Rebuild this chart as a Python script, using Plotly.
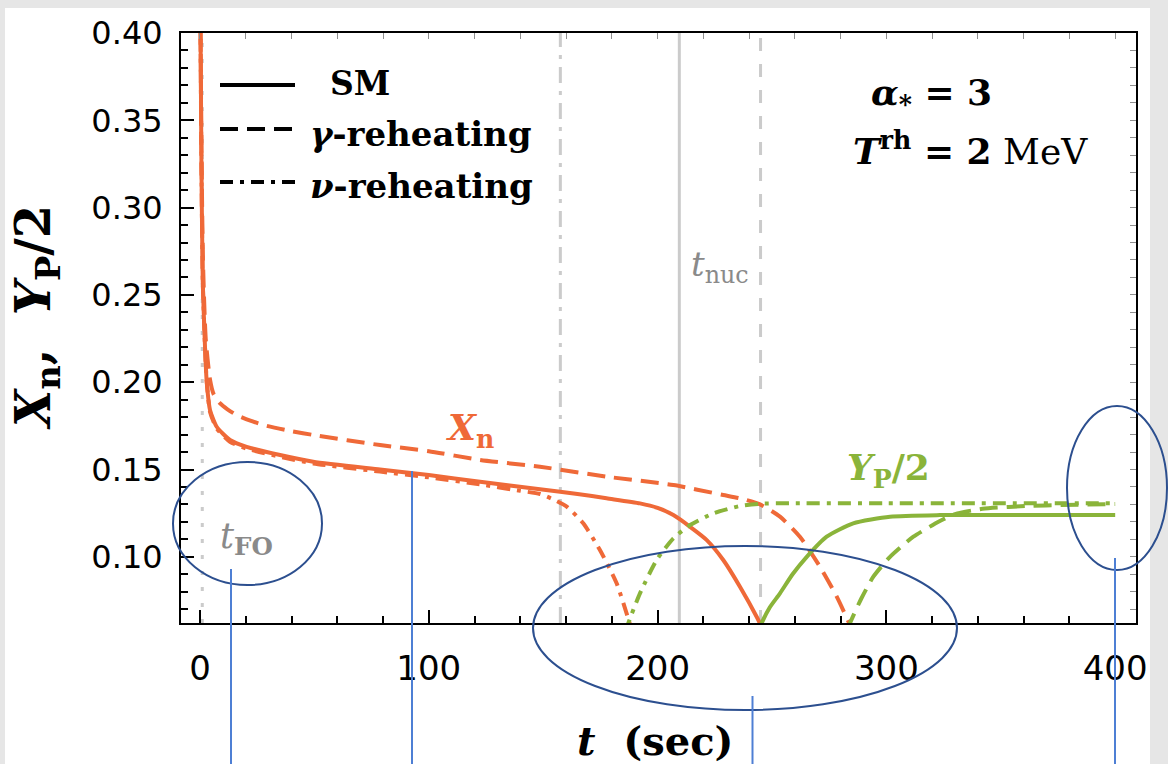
import plotly.graph_objects as go

# ---------------- data ----------------
# neutron fraction X_n
t_xn_sm = [0, 0.6, 1.2, 2.2, 2.9, 4.4, 7.3, 13.1, 20.4, 35, 49.5, 78.7, 100, 122.4,
           148.6, 165, 177.7, 192.3, 200, 206.9, 214.2, 221.5, 228.7, 236, 243.3, 246.5]
xn_sm = [0.45, 0.33, 0.258, 0.220, 0.201, 0.184, 0.1745, 0.1669, 0.163, 0.1583, 0.1545,
         0.1500, 0.1468, 0.1430, 0.1387, 0.1360, 0.1335, 0.1306, 0.1280, 0.1239, 0.1172,
         0.1096, 0.0982, 0.0829, 0.0657, 0.057]

t_xn_gam = [0, 0.6, 1.3, 2.5, 4.4, 6.0, 8.7, 12, 16, 22, 27.7, 40, 49.5, 78.7, 100, 122.4,
            148.6, 177.7, 206.9, 228.7, 236, 244.8, 253.5, 262.2, 271, 278.3, 285.5]
xn_gam = [0.45, 0.34, 0.27, 0.225, 0.2013, 0.193, 0.188, 0.1845, 0.1812, 0.178, 0.1755,
          0.172, 0.1698, 0.164, 0.1605, 0.1555, 0.1516, 0.1459, 0.1411, 0.1354, 0.1335,
          0.1300, 0.1230, 0.1115, 0.0943, 0.0772, 0.057]

t_xn_nu = [0, 0.6, 1.2, 2.2, 2.9, 4.4, 7.3, 13.1, 20.4, 35, 49.5, 78.7, 100, 122.4, 140,
           148.6, 155, 160.3, 167.5, 174.8, 182.1, 187.6, 189]
xn_nu = [0.45, 0.33, 0.258, 0.220, 0.201, 0.183, 0.1735, 0.1659, 0.162, 0.1573, 0.1535,
         0.1488, 0.1455, 0.1415, 0.1378, 0.1360, 0.1325, 0.1287, 0.1192, 0.1039, 0.0848,
         0.0628, 0.057]

# helium mass fraction / 2
t_yp_sm = [243.5, 245.5, 249, 253.5, 259, 265.2, 273.9, 285.5, 301.6, 323.4, 350, 400]
yp_sm = [0.055, 0.062, 0.071, 0.0791, 0.090, 0.100, 0.1115, 0.1192, 0.1230, 0.1239,
         0.1240, 0.1240]

t_yp_gam = [283, 284.1, 289, 294.3, 301.6, 311.8, 323.4, 330, 342, 364, 400]
yp_gam = [0.058, 0.062, 0.076, 0.0886, 0.100, 0.1115, 0.1205, 0.1245, 0.1275, 0.1293, 0.1302]

t_yp_nu = [186, 187.2, 192.3, 199.6, 206.9, 214.2, 224.4, 236, 244.8, 260, 300, 400]
yp_nu = [0.057, 0.062, 0.0791, 0.0982, 0.1106, 0.1182, 0.1249, 0.1291, 0.1304, 0.1307,
         0.1307, 0.1307]

# characteristic times (vertical reference lines): t_FO, nu-reheating t_nuc, SM t_nuc, gamma t_nuc
t_marks = [1.0, 157.5, 209.5, 245.0]

x_ticks = [0, 100, 200, 300, 400]
y_ticks = [0.10, 0.15, 0.20, 0.25, 0.30, 0.35, 0.40]

x_range = [-8.3, 409.1]
y_range = [0.0621, 0.40]

# ---------------- styling ----------------
ORANGE = "#ef6938"
GREEN = "#8ab43a"
GRAYLINE = "#cbcbcb"
GRAYTXT = "#8a8a8a"
DASH = "18px,9px"
DASHDOT = "13px,7px,4px,7px"
SERIF = "DejaVu Serif"
SANS = "DejaVu Sans"

fig = go.Figure()

mark_styles = ["4px,12px", "16px,8px,4px,8px", "solid", "13px,13px"]
for tm, ds in zip(t_marks, mark_styles):
    fig.add_trace(go.Scatter(x=[tm, tm], y=y_range, mode="lines",
                             line=dict(color=GRAYLINE, width=3, dash=ds),
                             showlegend=False, hoverinfo="skip"))

curves = [
    (t_xn_sm, xn_sm, ORANGE, "solid"),
    (t_xn_gam, xn_gam, ORANGE, DASH),
    (t_xn_nu, xn_nu, ORANGE, DASHDOT),
    (t_yp_sm, yp_sm, GREEN, "solid"),
    (t_yp_gam, yp_gam, GREEN, DASH),
    (t_yp_nu, yp_nu, GREEN, DASHDOT),
]
for tx, yy, col, ds in curves:
    fig.add_trace(go.Scatter(x=tx, y=yy, mode="lines",
                             line=dict(color=col, width=4, dash=ds, shape="spline",
                                       smoothing=0.6),
                             showlegend=False, hoverinfo="skip"))

# empty trace so that the mirrored (top/right) tick axes are drawn
fig.add_trace(go.Scatter(x=[None], y=[None], xaxis="x2", yaxis="y2", mode="lines",
                         showlegend=False, hoverinfo="skip"))

# ---------------- layout geometry (pixels -> paper) ----------------
L, R, T, B = 181, 1136, 33, 623
W, H = R - L, B - T


def px(x):
    return (x - L) / W


def py(y):
    return (B - y) / H


shapes = []
# white panel over grey frame
shapes.append(dict(type="rect", xref="paper", yref="paper", x0=px(5), x1=px(1150),
                   y0=py(800), y1=py(8), fillcolor="white", line=dict(width=0),
                   layer="below"))

# manual legend line samples
for yy, ds in [(85, "solid"), (129, DASH), (182, DASHDOT)]:
    shapes.append(dict(type="line", xref="paper", yref="paper", x0=px(220), x1=px(295),
                       y0=py(yy), y1=py(yy), line=dict(color="black", width=4, dash=ds)))

# blue overlay ellipses and guide lines
ELL = "#2c4f8f"
BL = "#4e7fd4"
for x0, x1, y0, y1 in [(173, 322, 462, 585), (533, 957, 546, 710), (1067, 1167, 406, 570)]:
    shapes.append(dict(type="circle", xref="paper", yref="paper", x0=px(x0), x1=px(x1),
                       y0=py(y1), y1=py(y0), line=dict(color=ELL, width=2)))
for xx, ytop in [(231, 569), (412, 471), (752.5, 696), (1115, 558)]:
    shapes.append(dict(type="line", xref="paper", yref="paper", x0=px(xx), x1=px(xx),
                       y0=py(ytop), y1=py(770), line=dict(color=BL, width=2)))

ann = []


def add_text(text, x, y, size, color="black", xanchor="center", angle=0, family=SERIF):
    ann.append(dict(text=text, x=px(x), y=py(y), xref="paper", yref="paper",
                    showarrow=False, xanchor=xanchor, yanchor="middle", textangle=angle,
                    font=dict(family=family, size=size, color=color)))


add_text("<b>SM</b>", 328, 84, 33, xanchor="left")
add_text("<b><i>γ</i>-reheating</b>", 308, 134, 34, xanchor="left")
add_text("<b><i>ν</i>-reheating</b>", 308, 186, 34, xanchor="left")
add_text("<b><i>α</i><sub>*</sub> = 3</b>", 931, 95, 36)
add_text("<b><i>T</i><sup>rh</sup> = 2</b> MeV", 970, 148, 36)
add_text("<i>t</i><sub>nuc</sub>", 720, 266, 34, color=GRAYTXT)
add_text("<i>t</i><sub><b>FO</b></sub>", 246, 538, 35, color=GRAYTXT)
add_text("<b><i>X</i><sub>n</sub></b>", 470, 430, 36, color=ORANGE)
add_text("<b><i>Y</i><sub>P</sub>/2</b>", 888, 470, 36, color=GREEN)
add_text("<b><i>X</i><sub>n</sub>,  <i>Y</i><sub>P</sub>/2</b>", 36, 318, 48, angle=-90)
add_text("<b><i>t</i>  (sec)</b>", 655, 740, 40)

fig.update_layout(
    width=1168, height=764,
    margin=dict(l=L, r=1168 - R, t=T, b=764 - B),
    paper_bgcolor="#e6e6e6",
    plot_bgcolor="white",
    shapes=shapes,
    annotations=ann,
    showlegend=False,
    xaxis=dict(range=x_range, tickvals=x_ticks, ticktext=[str(v) for v in x_ticks],
               ticks="inside", ticklen=13, tickwidth=2, tickcolor="black",
               minor=dict(dtick=20, tick0=0, ticks="inside", ticklen=7, tickwidth=2,
                          tickcolor="black", showgrid=False),
               showline=True, linewidth=2, linecolor="black", mirror=True,
               showgrid=False, zeroline=False, ticklabelstandoff=14,
               tickfont=dict(family=SANS, size=34, color="black")),
    yaxis=dict(range=y_range, tickvals=y_ticks, ticktext=[f"{v:.2f}" for v in y_ticks],
               ticks="inside", ticklen=13, tickwidth=2, tickcolor="black",
               minor=dict(dtick=0.01, tick0=0, ticks="inside", ticklen=7, tickwidth=2,
                          tickcolor="black", showgrid=False),
               showline=True, linewidth=2, linecolor="black", mirror=True,
               showgrid=False, zeroline=False, ticklabelstandoff=10,
               tickfont=dict(family=SANS, size=32, color="black")),
    xaxis2=dict(range=x_range, overlaying="x", side="top", anchor="y2",
                tick0=0, dtick=20, ticks="inside", ticklen=6, tickwidth=1,
                tickcolor="#8f8f8f", showticklabels=False, showgrid=False,
                zeroline=False, showline=False),
    yaxis2=dict(range=y_range, overlaying="y", side="right", anchor="x2",
                tick0=0, dtick=0.01, ticks="inside", ticklen=6, tickwidth=1,
                tickcolor="#8f8f8f", showticklabels=False, showgrid=False,
                zeroline=False, showline=False),
)

fig.write_html("out.html")
